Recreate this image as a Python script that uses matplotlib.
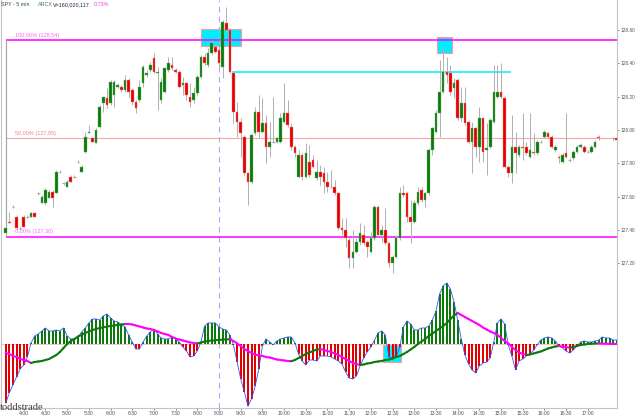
import numpy as np
import pandas as pd
import matplotlib
matplotlib.use("Agg")
import matplotlib.pyplot as plt
import matplotlib.dates as mdates
from matplotlib.patches import Rectangle
from matplotlib.collections import LineCollection

nan = np.nan

# SPY 5 min bars, first bar 03:35
first_bar = "2012-01-03 03:35"

opens = [127.38, 127.45, 127.54, 127.48, 127.41, 127.48, 127.48, 127.48, 127.50, 127.62,
         127.56, 127.56, 127.59, 127.63, 127.62, 127.75, 127.68, 127.66, 127.72, 127.72,
         127.81, 127.75, 127.87, 127.98, 127.95, 127.92, 128.02, 128.16, 128.19, 128.16,
         128.21, 128.26, 128.26, 128.24, 128.30, 128.24, 128.17, 128.18, 128.28, 128.33,
         128.36, 128.43, 128.34, 128.18, 128.23, 128.36, 128.39, 128.36, 128.35, 128.27,
         128.28, 128.20, 128.18, 128.22, 128.32, 128.44, 128.39, 128.46, 128.50, 128.48,
         128.38, 128.64, 128.60, 128.34, 128.11, 128.05, 127.96, 127.74, 127.69, 127.98,
         128.11, 127.99, 128.04, 127.90, 127.93, 127.93, 127.93, 128.05, 128.10, 128.02,
         127.90, 127.72, 127.85, 127.72, 127.81, 127.82, 127.71, 127.75, 127.74, 127.69,
         127.66, 127.66, 127.62, 127.41, 127.40, 127.34, 127.23, 127.27, 127.33, 127.37,
         127.33, 127.27, 127.35, 127.54, 127.37, 127.40, 127.32, 127.20, 127.24, 127.35,
         127.62, 127.62, 127.48, 127.45, 127.56, 127.64, 127.58, 127.62, 127.88, 127.99,
         128.10, 128.23, 128.35, 128.34, 128.25, 128.30, 128.07, 128.16, 128.05, 127.93,
         128.01, 127.90, 128.07, 127.88, 127.90, 128.05, 128.20, 128.23, 128.19, 127.78,
         127.74, 127.90, 127.85, 127.90, 127.90, 127.84, 127.87, 127.86, 127.93, 127.96,
         127.98, 127.96, 127.88, 127.84, 127.81, 127.86, 127.82, 127.83, 127.87, 127.90,
         127.90, 127.87, 127.87, 127.90, 127.96, nan, nan, nan, 127.95, 127.95]

highs = [127.42, 127.51, 127.55, 127.49, 127.42, 127.49, 127.49, 127.51, 127.51, 127.63,
         127.61, 127.65, 127.64, 127.64, 127.76, 127.76, 127.69, 127.70, 127.73, 127.73,
         127.82, 127.79, 127.99, 128.03, 127.96, 128.01, 128.15, 128.20, 128.25, 128.30,
         128.30, 128.28, 128.27, 128.33, 128.31, 128.25, 128.18, 128.30, 128.39, 128.36,
         128.41, 128.46, 128.38, 128.31, 128.38, 128.44, 128.44, 128.37, 128.36, 128.32,
         128.29, 128.28, 128.26, 128.33, 128.45, 128.46, 128.49, 128.54, 128.51, 128.54,
         128.66, 128.74, 128.61, 128.35, 128.17, 128.07, 127.97, 127.75, 127.98, 128.14,
         128.21, 128.19, 128.09, 128.05, 128.20, 127.96, 128.10, 128.28, 128.18, 128.04,
         127.91, 127.88, 127.86, 127.92, 127.91, 127.85, 127.82, 127.79, 127.78, 127.75,
         127.76, 127.70, 127.63, 127.47, 127.47, 127.35, 127.40, 127.35, 127.44, 127.43,
         127.34, 127.39, 127.55, 127.55, 127.43, 127.53, 127.33, 127.25, 127.37, 127.66,
         127.67, 127.63, 127.58, 127.58, 127.66, 127.66, 127.63, 127.89, 128.02, 128.12,
         128.42, 128.50, 128.44, 128.39, 128.31, 128.31, 128.26, 128.26, 128.06, 128.05,
         128.02, 128.14, 128.08, 128.04, 128.07, 128.39, 128.39, 128.40, 128.20, 127.79,
         128.09, 127.99, 127.91, 128.10, 127.93, 128.10, 127.98, 127.94, 127.94, 128.00,
         127.99, 127.97, 127.91, 127.85, 127.86, 128.10, 127.83, 127.88, 127.91, 127.92,
         127.91, 127.88, 127.91, 127.94, 127.97, nan, nan, nan, 127.96, 127.96]

lows = [127.37, 127.44, 127.53, 127.40, 127.40, 127.42, 127.47, 127.48, 127.48, 127.61,
        127.56, 127.55, 127.59, 127.54, 127.62, 127.74, 127.67, 127.66, 127.69, 127.71,
        127.80, 127.75, 127.86, 127.98, 127.93, 127.92, 128.01, 128.11, 128.13, 128.15,
        128.14, 128.25, 128.23, 128.23, 128.20, 128.15, 128.10, 128.17, 128.26, 128.32,
        128.35, 128.34, 128.12, 128.16, 128.22, 128.35, 128.36, 128.34, 128.25, 128.21,
        128.18, 128.14, 128.16, 128.21, 128.31, 128.39, 128.38, 128.45, 128.46, 128.36,
        128.31, 128.59, 128.34, 128.04, 127.96, 127.84, 127.73, 127.55, 127.68, 127.97,
        127.95, 127.98, 127.80, 127.84, 127.92, 127.92, 127.92, 128.04, 128.02, 127.88,
        127.84, 127.71, 127.70, 127.71, 127.72, 127.77, 127.70, 127.67, 127.62, 127.63,
        127.65, 127.61, 127.40, 127.37, 127.30, 127.17, 127.17, 127.26, 127.31, 127.31,
        127.24, 127.26, 127.34, 127.36, 127.33, 127.31, 127.18, 127.14, 127.23, 127.34,
        127.60, 127.45, 127.32, 127.44, 127.55, 127.57, 127.54, 127.61, 127.85, 127.98,
        127.96, 128.22, 128.28, 128.21, 128.19, 128.06, 128.05, 128.03, 127.92, 127.74,
        127.84, 127.81, 127.81, 127.73, 127.89, 128.04, 128.19, 128.19, 127.77, 127.72,
        127.68, 127.74, 127.84, 127.82, 127.85, 127.83, 127.85, 127.85, 127.92, 127.95,
        127.95, 127.89, 127.87, 127.80, 127.80, 127.83, 127.81, 127.82, 127.86, 127.89,
        127.86, 127.86, 127.86, 127.89, 127.94, nan, nan, nan, 127.94, 127.94]

closes = [127.41, 127.44, 127.54, 127.41, 127.41, 127.42, 127.48, 127.50, 127.48, 127.62,
          127.60, 127.64, 127.63, 127.59, 127.75, 127.75, 127.68, 127.69, 127.69, 127.72,
          127.81, 127.78, 127.96, 127.99, 127.93, 128.00, 128.14, 128.20, 128.15, 128.29,
          128.29, 128.27, 128.24, 128.30, 128.23, 128.17, 128.13, 128.26, 128.38, 128.34,
          128.39, 128.35, 128.35, 128.29, 128.37, 128.40, 128.37, 128.35, 128.26, 128.28,
          128.21, 128.17, 128.22, 128.32, 128.44, 128.40, 128.46, 128.52, 128.47, 128.40,
          128.65, 128.60, 128.35, 128.11, 128.05, 127.98, 127.74, 127.69, 127.97, 128.11,
          127.99, 128.04, 127.90, 127.93, 127.93, 127.95, 128.07, 128.10, 128.03, 127.90,
          127.86, 127.85, 127.72, 127.86, 127.73, 127.78, 127.75, 127.72, 127.69, 127.66,
          127.66, 127.62, 127.41, 127.40, 127.35, 127.23, 127.27, 127.33, 127.38, 127.32,
          127.30, 127.35, 127.54, 127.37, 127.40, 127.32, 127.20, 127.24, 127.35, 127.62,
          127.61, 127.48, 127.45, 127.56, 127.63, 127.58, 127.62, 127.88, 128.01, 128.10,
          128.23, 128.35, 128.33, 128.23, 128.28, 128.07, 128.16, 128.04, 127.93, 128.01,
          127.90, 128.07, 127.87, 127.89, 128.06, 128.23, 128.23, 128.20, 127.78, 127.74,
          127.90, 127.86, 127.90, 127.89, 127.86, 127.88, 127.86, 127.93, 127.93, 127.99,
          127.96, 127.90, 127.90, 127.83, 127.85, 127.84, 127.82, 127.87, 127.90, 127.91,
          127.87, 127.87, 127.90, 127.93, 127.95, nan, nan, nan, 127.95, 127.94]

# oscillator: histogram and its average line
hist = [-0.59, -0.49, -0.41, -0.33, -0.25, -0.21, -0.13, 0.01, 0.08, 0.10,
        0.13, 0.16, 0.13, 0.13, 0.14, 0.13, 0.16, 0.08, 0.05, 0.05,
        0.07, 0.12, 0.16, 0.21, 0.25, 0.25, 0.24, 0.28, 0.30, 0.26,
        0.23, 0.22, 0.19, 0.17, 0.09, 0.02, -0.05, -0.05, 0.02, 0.08,
        0.12, 0.15, 0.10, 0.06, 0.05, 0.05, 0.07, 0.05, 0.02, -0.03,
        -0.07, -0.13, -0.12, -0.07, 0.02, 0.18, 0.21, 0.21, 0.21, 0.17,
        0.15, 0.14, 0.09, -0.01, -0.18, -0.35, -0.48, -0.62, -0.55, -0.42,
        -0.25, -0.02, 0.05, 0.02, -0.01, 0.03, 0.05, 0.06, 0.07, 0.07,
        0.01, -0.10, -0.17, -0.21, -0.16, -0.16, -0.17, -0.12, -0.12, -0.12,
        -0.13, -0.15, -0.17, -0.20, -0.28, -0.34, -0.35, -0.32, -0.22, -0.14,
        -0.08, -0.03, 0.04, 0.11, 0.13, 0.09, -0.13, -0.14, -0.13, -0.03,
        0.17, 0.23, 0.20, 0.14, 0.14, 0.16, 0.16, 0.18, 0.24, 0.33,
        0.50, 0.58, 0.61, 0.55, 0.42, 0.24, 0.05, -0.11, -0.20, -0.26,
        -0.29, -0.22, -0.19, -0.18, -0.14, 0.02, 0.21, 0.25, 0.20, -0.01,
        -0.12, -0.26, -0.17, -0.15, -0.12, -0.10, -0.06, -0.01, 0.04, 0.06,
        0.07, 0.06, 0.03, -0.02, -0.04, -0.07, -0.09, -0.06, -0.02, 0.02,
        0.03, 0.02, 0.02, 0.03, 0.04, 0.07, 0.06, 0.06, 0.04, 0.04]

signal = [-0.09, -0.10, -0.12, -0.13, -0.15, -0.16, -0.17, -0.19, -0.18, -0.175,
          -0.17, -0.16, -0.15, -0.13, -0.11, -0.08, -0.04, 0.00, 0.03, 0.05,
          0.075, 0.09, 0.11, 0.125, 0.14, 0.15, 0.16, 0.165, 0.175, 0.18,
          0.185, 0.19, 0.195, 0.20, 0.20, 0.195, 0.185, 0.175, 0.165, 0.155,
          0.15, 0.14, 0.125, 0.11, 0.10, 0.09, 0.07, 0.055, 0.045, 0.035,
          0.025, 0.015, 0.01, 0.005, 0.015, 0.025, 0.03, 0.034, 0.038, 0.041,
          0.044, 0.046, 0.048, 0.03, 0.005, -0.02, -0.05, -0.07, -0.09, -0.105,
          -0.115, -0.12, -0.13, -0.135, -0.145, -0.155, -0.16, -0.165, -0.17, -0.172,
          -0.16, -0.14, -0.12, -0.10, -0.085, -0.07, -0.055, -0.05, -0.06, -0.07,
          -0.08, -0.095, -0.11, -0.13, -0.15, -0.17, -0.19, -0.20, -0.21, -0.205,
          -0.195, -0.19, -0.18, -0.175, -0.17, -0.16, -0.155, -0.145, -0.13, -0.12,
          -0.10, -0.08, -0.055, -0.03, 0.0, 0.025, 0.05, 0.08, 0.105, 0.13,
          0.155, 0.18, 0.21, 0.25, 0.285, 0.31, 0.29, 0.27, 0.25, 0.23,
          0.21, 0.19, 0.165, 0.145, 0.125, 0.11, 0.09, 0.06, 0.03, 0.005,
          -0.03, -0.06, -0.085, -0.10, -0.11, -0.105, -0.095, -0.085, -0.075, -0.06,
          -0.045, -0.035, -0.025, -0.02, -0.025, -0.032, -0.035, -0.03, -0.02, -0.01,
          -0.005, 0.0, 0.003, 0.005, 0.006, 0.004, 0.003, 0.002, 0.001, 0.0]

# drawings on the chart
fib_levels = [128.54, 127.95, 127.36]
fib_labels = ["100.00% (128.54)", "50.00% (127.95)", "0.00% (127.36)"]
open_time = "2012-01-03 08:30"
cyan_level = 128.35
cyan_span = ("2012-01-03 08:48", "2012-01-03 15:14")
boxes_price = [("2012-01-03 08:05", "2012-01-03 09:01", 128.505, 128.605),
               ("2012-01-03 13:32", "2012-01-03 13:52", 128.46, 128.56)]
box_osc = ("2012-01-03 12:17", "2012-01-03 12:41", -0.177, -0.01)
view = ("2012-01-03 03:28", "2012-01-03 17:41")
tick_times = pd.date_range("2012-01-03 04:00", "2012-01-03 17:00", freq="30min")

o = np.array(opens, float)
h = np.array(highs, float)
l = np.array(lows, float)
c = np.array(closes, float)
hist = np.array(hist)
signal = np.array(signal)
times = pd.date_range(first_bar, periods=len(c), freq="5min")
x = mdates.date2num(times)
bw = 5 / 1440.0
tnum = lambda s: mdates.date2num(pd.Timestamp(s))

GREEN = "#0b7a0b"
RED = "#e30000"
MAG = "#ff00ff"
CYAN = "#00eeff"
GRID = "#c4c4c4"

plt.rcParams["font.family"] = ["Liberation Sans", "DejaVu Sans"]
fig = plt.figure(figsize=(6.4, 4.2), dpi=100)
fig.patch.set_facecolor("white")
ax = fig.add_axes([0.001, 0.3286, 0.9638, 0.6714])
ax2 = fig.add_axes([0.001, 0.0286, 0.9638, 0.3], sharex=ax)

# ---- price panel
for t0, t1, lo, hi in boxes_price:
    ax.add_patch(Rectangle((tnum(t0), lo), tnum(t1) - tnum(t0), hi - lo,
                           facecolor=CYAN, edgecolor="#f0a0a0", lw=0.8, zorder=1))

xr = tnum(view[1])
ax.hlines([fib_levels[0], fib_levels[2]], x[0], xr, color=MAG, lw=1.1, zorder=1.5)
ax.hlines(fib_levels[1], x[0], xr, color="#f4a8a8", lw=0.8, zorder=1.5)
ax.vlines(x[0], fib_levels[2], fib_levels[0], color="#a0a0a0", lw=0.8, zorder=1.5)
for lev, lab, col in zip(fib_levels, fib_labels, ["#ff66ff", "#f08080", "#ff66ff"]):
    ax.annotate(lab, (x[0], lev), xytext=(6.5, 1.5), textcoords="offset points",
                fontsize=4, color=col, va="bottom", ha="left")
ax.hlines(cyan_level, tnum(cyan_span[0]), tnum(cyan_span[1]), color=CYAN, lw=1.1, zorder=1.5)

ax.vlines(x, l, h, color="#b0b0b0", lw=0.7, zorder=2)
up = c > o
dn = c < o
fl = c == o
w = bw * 0.72
ax.bar(x[up], (c - o)[up], bottom=o[up], width=w, color=GREEN,
       edgecolor="#6fb06f", lw=0.3, zorder=3)
ax.bar(x[dn], (o - c)[dn], bottom=c[dn], width=w, color=RED,
       edgecolor="#f08a8a", lw=0.3, zorder=3)
ax.hlines(c[fl], x[fl] - w / 2, x[fl] + w / 2, color="#9fb09f", lw=0.8, zorder=3)

ax.set_ylim(127.087, 128.781)
ax.yaxis.tick_right()
ax.set_yticks(np.arange(127.2, 128.61, 0.2))
ax.yaxis.set_major_formatter(plt.FuncFormatter(lambda v, p: f"{v:.2f}"))
ax.tick_params(axis="y", labelsize=3.4, colors="#505050", length=1.5, width=0.5, pad=1)
ax.tick_params(axis="x", bottom=False, labelbottom=False)
for s in ["top", "bottom"]:
    ax.spines[s].set_visible(False)
for s in ["left", "right"]:
    ax.spines[s].set_color(GRID)
    ax.spines[s].set_linewidth(0.8)

# ---- oscillator panel
t0, t1, lo, hi = box_osc
ax2.add_patch(Rectangle((tnum(t0), lo), tnum(t1) - tnum(t0), hi - lo,
                        facecolor=CYAN, edgecolor="#f0a0a0", lw=0.8, zorder=1))
ax2.axhline(0, color="#f2b0b0", lw=0.5, zorder=1.5)
ax2.bar(x, hist, width=bw * 0.55, color=np.where(hist >= 0, GREEN, RED), zorder=2)
ax2.plot(x, hist, color="#3355ff", lw=0.6, zorder=3)
pts = np.column_stack([x, signal])
segs = np.stack([pts[:-1], pts[1:]], axis=1)
cols = [GREEN if b > a else MAG for a, b in zip(signal[:-1], signal[1:])]
ax2.add_collection(LineCollection(segs, colors=cols, linewidths=1.5, zorder=4,
                                  capstyle="round"))
ax2.set_ylim(-0.64, 0.62)
ax2.set_yticks([])
ax2.spines["top"].set_visible(False)
for s in ["left", "right", "bottom"]:
    ax2.spines[s].set_color(GRID)
    ax2.spines[s].set_linewidth(0.8)

ax2.set_xticks(mdates.date2num(tick_times))
ax2.set_xticklabels([f"{t.hour}:{t.minute:02d}" for t in tick_times])
ax2.tick_params(axis="x", labelsize=3.6, colors="#505050", length=1.5, width=0.5, pad=1)
ax2.set_xlim(tnum(view[0]), xr)

for a in (ax, ax2):
    a.axvline(tnum(open_time), color="#a8a8ff", lw=0.8, ls=(0, (5, 4)), zorder=1.2)

# header and watermark
hy = 1 - 5 / 420
fig.text(0.002, hy, "SPY - 5 min", fontsize=3.9, color="#2f4f4f", va="center")
fig.text(0.059, hy, "ARCX", fontsize=3.9, color="#4a7a4a", va="center")
fig.text(0.083, hy, "V=160,020,117", fontsize=3.9, color="#202040", va="center")
fig.text(0.146, hy, "0.73%", fontsize=3.9, color="#e040e0", va="center")
fig.text(0.0, 1 - 410 / 420, "toddstrade", fontsize=7.5, color="#404040",
         family=["Liberation Serif", "DejaVu Serif"], va="baseline")

fig.savefig("out.png", dpi=100, facecolor="white")
